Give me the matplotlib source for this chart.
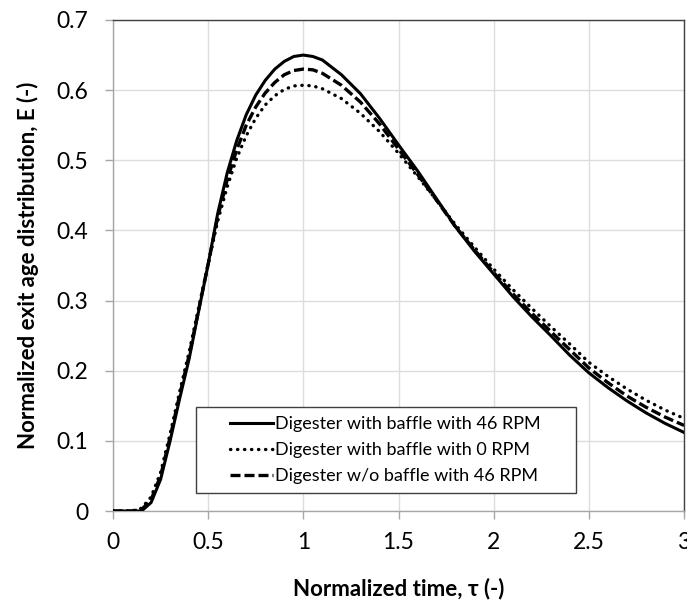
import matplotlib
matplotlib.use("Agg")
import matplotlib.pyplot as plt
from matplotlib.patches import Rectangle

plt.rcParams['font.family'] = ['Lato', 'DejaVu Sans']

x_vals = [0.0, 0.1, 0.15, 0.2, 0.25, 0.3, 0.35, 0.4, 0.45, 0.5, 0.55, 0.6, 0.65, 0.7, 0.75,
          0.8, 0.85, 0.9, 0.95, 1.0, 1.05, 1.1, 1.2, 1.3, 1.4, 1.5, 1.6, 1.7, 1.8, 1.9,
          2.0, 2.1, 2.2, 2.3, 2.4, 2.5, 2.6, 2.7, 2.8, 2.9, 3.0]

e_baffle_46 = [0.0, 0.0, 0.0, 0.012, 0.045, 0.100, 0.160, 0.217, 0.285, 0.352, 0.424, 0.482,
               0.528, 0.565, 0.593, 0.614, 0.630, 0.641, 0.648, 0.650, 0.648, 0.643, 0.622,
               0.595, 0.560, 0.522, 0.485, 0.445, 0.405, 0.370, 0.338, 0.306, 0.277, 0.250,
               0.222, 0.197, 0.176, 0.157, 0.140, 0.125, 0.112]

e_baffle_0 = [0.0, 0.0, 0.004, 0.020, 0.055, 0.110, 0.170, 0.227, 0.290, 0.352, 0.413, 0.462,
              0.503, 0.535, 0.560, 0.579, 0.592, 0.601, 0.606, 0.607, 0.606, 0.602, 0.588,
              0.567, 0.541, 0.510, 0.477, 0.443, 0.408, 0.376, 0.345, 0.316, 0.289, 0.263,
              0.238, 0.212, 0.192, 0.174, 0.158, 0.144, 0.132]

e_nobaffle_46 = [0.0, 0.0, 0.002, 0.016, 0.050, 0.105, 0.165, 0.222, 0.287, 0.352, 0.419, 0.472,
                 0.515, 0.550, 0.576, 0.596, 0.611, 0.622, 0.628, 0.630, 0.629, 0.624, 0.607,
                 0.583, 0.552, 0.516, 0.480, 0.443, 0.405, 0.372, 0.340, 0.310, 0.282, 0.256,
                 0.230, 0.204, 0.183, 0.164, 0.148, 0.134, 0.122]

labels = ["Digester with baffle with 46 RPM",
          "Digester with baffle with 0 RPM",
          "Digester w/o baffle with 46 RPM"]

x_ticks = [0, 0.5, 1, 1.5, 2, 2.5, 3]
x_ticklabels = ["0", "0.5", "1", "1.5", "2", "2.5", "3"]
y_ticks = [0, 0.1, 0.2, 0.3, 0.4, 0.5, 0.6, 0.7]
y_ticklabels = ["0", "0.1", "0.2", "0.3", "0.4", "0.5", "0.6", "0.7"]

W, H = 687, 608
fig = plt.figure(figsize=(W/100, H/100), dpi=100)
ax = fig.add_axes([113/W, 1-511/H, (684-113)/W, (511-20)/H])

ax.plot(x_vals, e_baffle_46, color='black', lw=2.2, ls='-', label=labels[0], zorder=3)
ax.plot(x_vals, e_baffle_0, color='black', lw=2.4, ls=(0, (0.1, 2.0)), dash_capstyle='round',
        label=labels[1], zorder=3)
ax.plot(x_vals, e_nobaffle_46, color='black', lw=2.4, ls=(0, (3.0, 1.2)), label=labels[2], zorder=3)

ax.set_xlim(0, 3)
ax.set_ylim(0, 0.7)
ax.set_xticks(x_ticks)
ax.set_xticklabels(x_ticklabels)
ax.set_yticks(y_ticks)
ax.set_yticklabels(y_ticklabels)
ax.grid(True, color='#dcdcdc', lw=1.0, zorder=0)
ax.set_axisbelow(True)

for s in ['top', 'right']:
    ax.spines[s].set_color('#404040')
    ax.spines[s].set_linewidth(1.0)
for s in ['left', 'bottom']:
    ax.spines[s].set_color('#a6a6a6')
    ax.spines[s].set_linewidth(1.0)

ax.tick_params(axis='both', direction='out', length=6, width=1, color='#a6a6a6',
               labelsize=16.5, labelcolor='black')
ax.tick_params(axis='x', pad=9)
ax.tick_params(axis='y', pad=12)

ax.set_xlabel("Normalized time, τ (-)", fontsize=16, fontweight='bold', labelpad=18)
ax.set_ylabel("Normalized exit age distribution, E (-)", fontsize=16, fontweight='bold', labelpad=12)

# legend frame (white box with dark border)
box = Rectangle((196/W, 1-493/H), (576-196)/W, (493-407)/H, transform=fig.transFigure,
                facecolor='white', edgecolor='#404040', lw=1.0, zorder=4)
ax.add_patch(box)
box.set_clip_on(False)

leg = ax.legend(loc='center', bbox_to_anchor=(385/W, 1-450/H), bbox_transform=fig.transFigure,
                fontsize=13, frameon=False, handlelength=2.4, handletextpad=0.1,
                borderpad=0.0, labelspacing=0.55)
leg.set_zorder(5)

fig.savefig("out.png", dpi=100)
